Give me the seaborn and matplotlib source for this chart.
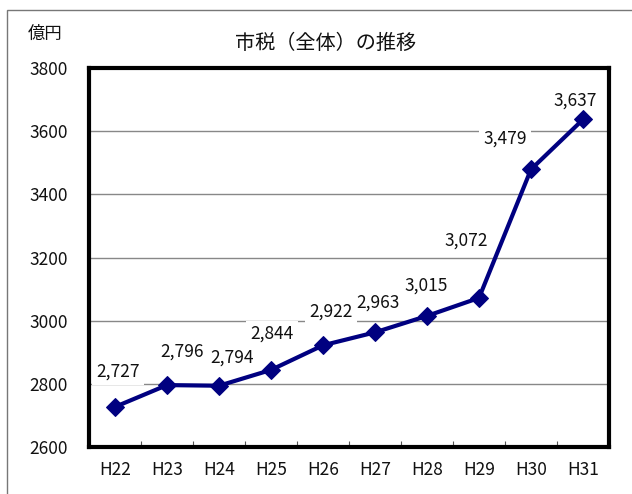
import matplotlib
matplotlib.use("Agg")
import matplotlib.pyplot as plt
import seaborn as sns
import pandas as pd
from matplotlib.patches import Rectangle

years = ["H22", "H23", "H24", "H25", "H26", "H27", "H28", "H29", "H30", "H31"]
values = [2727, 2796, 2794, 2844, 2922, 2963, 3015, 3072, 3479, 3637]
value_labels = ["2,727", "2,796", "2,794", "2,844", "2,922", "2,963", "3,015", "3,072", "3,479", "3,637"]
label_offsets = [(3, 35), (15, 33), (13, 28), (1, 36), (8, 34), (3, 30), (-1, 30), (-13, 57), (-26, 31), (-8, 19)]
yticks = [2600, 2800, 3000, 3200, 3400, 3600, 3800]

sns.set_theme(style="white")
plt.rcParams['font.family'] = ['Noto Sans CJK JP', 'DejaVu Sans']

W, H = 632, 494
fig = plt.figure(figsize=(W / 100, H / 100), dpi=100)
ax = fig.add_axes([89 / W, 1 - 447 / H, (609 - 89) / W, (447 - 68) / H])

df = pd.DataFrame({"year": years, "value": values})
sns.lineplot(data=df, x="year", y="value", ax=ax, color="#000080", linewidth=3,
             marker="D", markersize=9, markeredgecolor="#000080", zorder=3)

ax.set_xlim(-0.5, len(years) - 0.5)
ax.set_ylim(2600, 3800)
ax.set_yticks(yticks)
ax.set_yticklabels([str(v) for v in yticks], fontsize=12.5)
ax.set_xticks(range(len(years)))
ax.set_xticklabels(years, fontsize=12.5)
ax.set_xticks([i + 0.5 for i in range(len(years) - 1)], minor=True)
ax.tick_params(axis="x", which="major", length=0, pad=10, colors="#111111")
ax.tick_params(axis="x", which="minor", direction="in", length=4, width=0.8, color="#555555", bottom=True)
ax.tick_params(axis="y", which="major", length=0, pad=15, colors="#111111")
ax.set_xlabel("")
ax.set_ylabel("")

for v in yticks[1:-1]:
    ax.axhline(v, color="#888888", linewidth=1, zorder=1)

for sp in ax.spines.values():
    sp.set_color("black")
    sp.set_linewidth(3)
    sp.set_visible(True)

for i, (lab, off) in enumerate(zip(value_labels, label_offsets)):
    ax.annotate(lab, (i, values[i]), xytext=off, textcoords="offset pixels",
                ha="center", va="center", fontsize=12.5, color="#111111", zorder=2.5,
                bbox=dict(boxstyle="square,pad=0.25", fc="white", ec="none"))

fig.text(326 / W, 1 - 43 / H, "市税（全体）の推移", ha="center", va="center", fontsize=14.5, color="#111111")
fig.text(45 / W, 1 - 34 / H, "億円", ha="center", va="center", fontsize=12.5, color="#111111")

fig.patches.append(Rectangle((7 / W, -0.1), 1.2, 1 - 10 / H + 0.1, transform=fig.transFigure,
                             fill=False, edgecolor="#777777", linewidth=1))

fig.savefig("out.png", dpi=100)
